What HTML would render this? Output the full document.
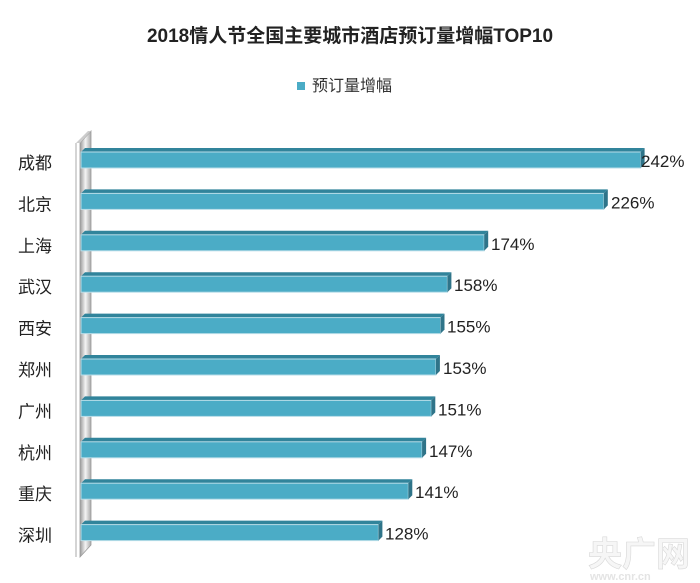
<!DOCTYPE html>
<html><head><meta charset="utf-8"><style>
html,body{margin:0;padding:0;background:#fff;}
svg{display:block;font-family:"Liberation Sans","Noto Sans CJK SC",sans-serif;}
</style></head><body>
<svg width="700" height="583" viewBox="0 0 700 583" xmlns="http://www.w3.org/2000/svg">
<defs>
<linearGradient id="wg" x1="0" x2="1" y1="0" y2="0">
<stop offset="0" stop-color="#9a9a9a"/><stop offset="0.5" stop-color="#f4f4f4"/><stop offset="1" stop-color="#a8a8a8"/>
</linearGradient>
</defs>
<text x="350" y="42" text-anchor="middle" font-size="19" font-weight="bold" fill="#222">2018情人节全国主要城市酒店预订量增幅TOP10</text>
<rect x="297" y="82" width="8" height="8" fill="#4bacc6"/>
<text x="312" y="91" font-size="16" fill="#333">预订量增幅</text>
<polygon points="80,143 91,131 91,545 80,557" fill="url(#wg)" stroke="#999" stroke-width="0.8"/>
<line x1="76" y1="143" x2="76" y2="557" stroke="#aaa" stroke-width="1"/>
<polygon points="76,143 80,143 91,131 88,131" fill="#ccc"/>

<g fill="#31849b">
<polygon points="81,152 85,148 644.6,148 640.6,152"/>
<polygon points="81,193.4 85,189.4 607.8,189.4 603.8,193.4"/>
<polygon points="81,234.8 85,230.8 488.2,230.8 484.2,234.8"/>
<polygon points="81,276.2 85,272.2 451.4,272.2 447.4,276.2"/>
<polygon points="81,317.6 85,313.6 444.5,313.6 440.5,317.6"/>
<polygon points="81,359 85,355 439.9,355 435.9,359"/>
<polygon points="81,400.4 85,396.4 435.3,396.4 431.3,400.4"/>
<polygon points="81,441.8 85,437.8 426.1,437.8 422.1,441.8"/>
<polygon points="81,483.2 85,479.2 412.3,479.2 408.3,483.2"/>
<polygon points="81,524.6 85,520.6 382.4,520.6 378.4,524.6"/>
</g>
<g fill="#4bacc6" stroke="#b7dde8" stroke-width="1">
<rect x="81" y="152" width="559.6" height="16"/>
<rect x="81" y="193.4" width="522.8" height="16"/>
<rect x="81" y="234.8" width="403.2" height="16"/>
<rect x="81" y="276.2" width="366.4" height="16"/>
<rect x="81" y="317.6" width="359.5" height="16"/>
<rect x="81" y="359" width="354.9" height="16"/>
<rect x="81" y="400.4" width="350.3" height="16"/>
<rect x="81" y="441.8" width="341.1" height="16"/>
<rect x="81" y="483.2" width="327.3" height="16"/>
<rect x="81" y="524.6" width="297.4" height="16"/>
</g>
<g fill="#2f7489">
<polygon points="640.6,152 644.6,148 644.6,164 640.6,168"/>
<polygon points="603.8,193.4 607.8,189.4 607.8,205.4 603.8,209.4"/>
<polygon points="484.2,234.8 488.2,230.8 488.2,246.8 484.2,250.8"/>
<polygon points="447.4,276.2 451.4,272.2 451.4,288.2 447.4,292.2"/>
<polygon points="440.5,317.6 444.5,313.6 444.5,329.6 440.5,333.6"/>
<polygon points="435.9,359 439.9,355 439.9,371 435.9,375"/>
<polygon points="431.3,400.4 435.3,396.4 435.3,412.4 431.3,416.4"/>
<polygon points="422.1,441.8 426.1,437.8 426.1,453.8 422.1,457.8"/>
<polygon points="408.3,483.2 412.3,479.2 412.3,495.2 408.3,499.2"/>
<polygon points="378.4,524.6 382.4,520.6 382.4,536.6 378.4,540.6"/>
</g>
<g font-size="17" fill="#222">
<text x="641" y="167">242%</text>
<text x="611" y="208.4">226%</text>
<text x="491" y="249.8">174%</text>
<text x="454" y="291.2">158%</text>
<text x="447" y="332.6">155%</text>
<text x="443" y="374">153%</text>
<text x="438" y="415.4">151%</text>
<text x="429" y="456.8">147%</text>
<text x="415" y="498.2">141%</text>
<text x="385" y="539.6">128%</text>
</g>
<g font-size="17" fill="#222">
<text x="18" y="169">成都</text>
<text x="18" y="210.4">北京</text>
<text x="18" y="251.8">上海</text>
<text x="18" y="293.2">武汉</text>
<text x="18" y="334.6">西安</text>
<text x="18" y="376">郑州</text>
<text x="18" y="417.4">广州</text>
<text x="18" y="458.8">杭州</text>
<text x="18" y="500.2">重庆</text>
<text x="18" y="541.6">深圳</text>
</g>
<text x="588" y="566" font-size="34" font-weight="bold" fill="#f6f6f6" stroke="#d8d8d8" stroke-width="0.6">央广网</text>
<text x="590" y="580" font-size="11" fill="#e4e4e4" font-weight="bold">www.cnr.cn</text>
</svg>
</body></html>
